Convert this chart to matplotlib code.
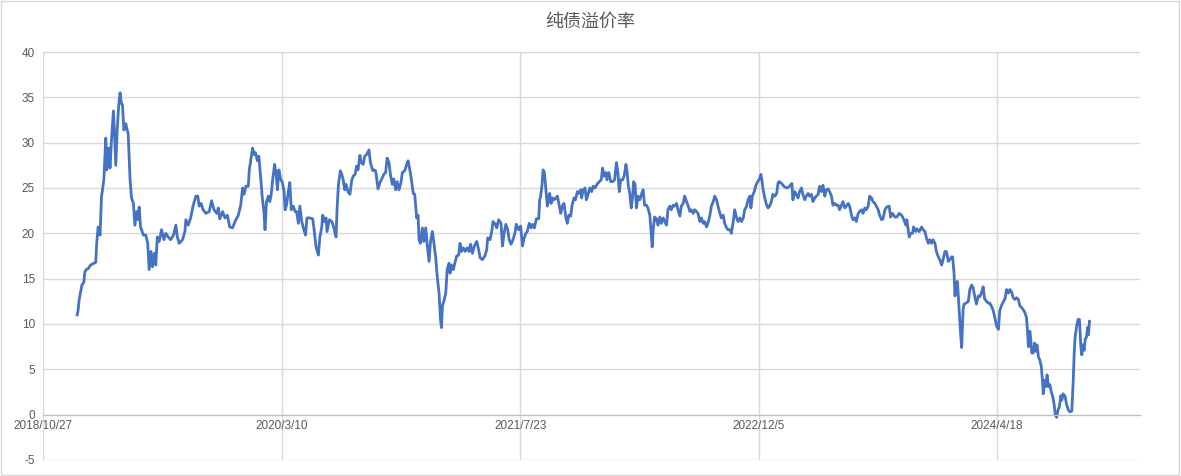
import datetime as dt
import matplotlib
matplotlib.use('Agg')
import matplotlib.pyplot as plt
import matplotlib.dates as mdates
from matplotlib.ticker import FuncFormatter, MultipleLocator
from matplotlib.patches import Rectangle

plt.rcParams['axes.unicode_minus'] = False

title = '纯债溢价率'
base_date = dt.date(2018, 10, 27)

# days after 2018/10/27
offset_days = [
    71, 73, 75, 77, 81, 85, 87, 90, 94, 99, 110, 112, 115, 119, 122, 127, 131, 133, 137, 140,
    143, 147, 149, 152, 155, 158, 161, 164, 166, 169, 173, 175, 178, 182, 185, 189, 192, 196, 199, 201,
    204, 210, 215, 219, 222, 226, 229, 233, 236, 239, 243, 248, 253, 257, 262, 267, 273, 278, 281, 285,
    292, 297, 299, 304, 309, 314, 320, 324, 327, 331, 335, 341, 348, 353, 358, 364, 367, 370, 376, 381,
    386, 391, 397, 402, 409, 414, 418, 421, 425, 430, 432, 435, 439, 442, 445, 449, 452, 456, 459, 463,
    465, 468, 472, 475, 478, 481, 485, 488, 491, 494, 498, 501, 505, 507, 510, 514, 517, 520, 524, 528,
    531, 535, 538, 542, 545, 550, 553, 559, 565, 568, 572, 577, 580, 584, 586, 590, 593, 595, 600, 605,
    609, 614, 616, 619, 623, 626, 629, 632, 635, 639, 643, 647, 650, 654, 657, 660, 664, 667, 671, 674,
    678, 683, 686, 691, 694, 697, 702, 706, 709, 714, 718, 721, 725, 728, 732, 735, 739, 742, 746, 750,
    753, 758, 762, 765, 769, 772, 776, 779, 783, 786, 788, 791, 795, 798, 802, 805, 809, 812, 816, 820,
    823, 826, 830, 833, 835, 837, 841, 844, 847, 851, 853, 856, 860, 863, 867, 871, 874, 877, 881, 885,
    889, 893, 896, 900, 904, 909, 913, 916, 921, 926, 930, 932, 937, 941, 943, 948, 951, 955, 960, 963,
    966, 970, 974, 977, 981, 985, 989, 992, 997, 1001, 1005, 1008, 1012, 1015, 1019, 1023, 1026, 1030, 1034, 1039,
    1041, 1043, 1046, 1048, 1051, 1054, 1057, 1060, 1062, 1065, 1068, 1071, 1075, 1078, 1082, 1085, 1089, 1092, 1096, 1099,
    1102, 1106, 1109, 1113, 1116, 1120, 1123, 1127, 1129, 1132, 1136, 1139, 1143, 1146, 1150, 1153, 1157, 1161, 1166, 1170,
    1173, 1176, 1180, 1182, 1186, 1190, 1194, 1198, 1202, 1205, 1208, 1211, 1215, 1218, 1222, 1224, 1227, 1230, 1233, 1236,
    1238, 1241, 1244, 1247, 1251, 1255, 1258, 1261, 1265, 1268, 1272, 1275, 1277, 1279, 1282, 1286, 1289, 1293, 1296, 1300,
    1303, 1307, 1310, 1314, 1317, 1321, 1324, 1328, 1331, 1335, 1338, 1342, 1345, 1349, 1352, 1356, 1359, 1363, 1366, 1370,
    1373, 1377, 1380, 1384, 1387, 1391, 1394, 1398, 1401, 1405, 1408, 1412, 1415, 1419, 1422, 1426, 1429, 1433, 1436, 1440,
    1443, 1447, 1450, 1454, 1457, 1461, 1464, 1468, 1471, 1475, 1478, 1482, 1484, 1487, 1491, 1494, 1497, 1501, 1505, 1507,
    1509, 1513, 1517, 1520, 1523, 1527, 1530, 1534, 1538, 1541, 1544, 1550, 1555, 1560, 1565, 1570, 1572, 1576, 1579, 1583,
    1586, 1590, 1593, 1597, 1600, 1604, 1607, 1611, 1614, 1618, 1621, 1625, 1628, 1632, 1635, 1639, 1642, 1646, 1649, 1653,
    1656, 1660, 1663, 1667, 1670, 1674, 1677, 1681, 1684, 1688, 1691, 1695, 1698, 1702, 1705, 1709, 1712, 1716, 1719, 1723,
    1726, 1730, 1733, 1737, 1740, 1744, 1747, 1751, 1754, 1758, 1761, 1765, 1769, 1774, 1777, 1781, 1786, 1790, 1795, 1800,
    1804, 1809, 1811, 1816, 1819, 1823, 1825, 1830, 1832, 1837, 1842, 1845, 1849, 1852, 1856, 1859, 1863, 1866, 1870, 1873,
    1877, 1880, 1884, 1887, 1891, 1894, 1898, 1901, 1905, 1907, 1910, 1912, 1914, 1917, 1919, 1922, 1924, 1926, 1929, 1931,
    1935, 1940, 1943, 1947, 1950, 1954, 1957, 1961, 1964, 1968, 1971, 1974, 1978, 1982, 1985, 1989, 1992, 1996, 1999, 2003,
    2006, 2010, 2013, 2017, 2020, 2024, 2027, 2031, 2034, 2038, 2041, 2045, 2048, 2052, 2055, 2059, 2062, 2064, 2066, 2069,
    2071, 2073, 2076, 2079, 2082, 2084, 2087, 2090, 2093, 2096, 2097, 2100, 2103, 2105, 2108, 2111, 2114, 2117, 2120, 2122,
    2125, 2128, 2131, 2134, 2136, 2139, 2143, 2146, 2150, 2153, 2157, 2160, 2162, 2164, 2167, 2170, 2173, 2176, 2178, 2180,
    2183, 2185, 2188, 2190, 2192, 2194,
]

premium = [
    11.0, 11.5, 12.6, 13.2, 14.3, 14.6, 15.7, 16.0, 16.1, 16.5, 16.8, 18.9, 20.7, 19.8, 24.0, 25.9, 30.5, 27.0, 29.4, 27.2,
    30.3, 33.5, 31.4, 27.5, 31.4, 34.0, 35.5, 34.3, 34.2, 31.4, 32.1, 31.6, 31.0, 25.9, 23.9, 23.3, 20.9, 22.4, 21.5, 22.9,
    20.7, 19.8, 19.8, 18.9, 16.0, 18.0, 16.3, 17.8, 16.5, 19.6, 19.1, 20.4, 19.3, 20.0, 19.6, 19.3, 19.8, 20.9, 19.6, 18.9,
    19.3, 20.2, 21.5, 20.9, 21.7, 23.0, 24.1, 24.1, 23.0, 23.3, 22.6, 22.2, 22.4, 23.6, 22.6, 22.2, 22.8, 21.6, 22.4, 21.7,
    22.0, 20.7, 20.6, 21.3, 22.0, 23.1, 25.0, 24.3, 25.2, 25.2, 27.0, 28.0, 29.4, 28.7, 28.9, 28.0, 28.5, 26.1, 24.1, 22.2,
    20.4, 23.5, 24.1, 23.5, 24.3, 25.9, 27.6, 26.7, 24.8, 27.0, 25.9, 25.7, 24.6, 22.6, 23.1, 24.6, 25.6, 22.6, 23.0, 22.4,
    22.4, 21.1, 23.0, 21.3, 20.7, 19.8, 21.7, 21.7, 21.6, 20.4, 18.5, 17.6, 19.6, 20.7, 22.0, 21.3, 21.7, 20.2, 21.5, 21.3,
    20.7, 19.6, 22.6, 25.4, 26.9, 26.5, 25.9, 24.8, 25.4, 24.6, 24.3, 25.9, 26.3, 26.5, 27.4, 27.0, 28.6, 27.8, 27.6, 28.5,
    28.7, 29.2, 27.8, 26.9, 27.0, 26.9, 24.9, 25.6, 25.9, 26.5, 26.7, 28.3, 27.8, 26.5, 25.4, 26.0, 24.8, 25.7, 24.8, 25.6,
    26.7, 26.9, 27.6, 28.0, 26.9, 25.9, 24.4, 24.3, 21.7, 22.0, 19.3, 18.9, 20.6, 19.1, 20.6, 18.8, 16.9, 19.1, 20.2, 18.6,
    17.3, 15.3, 13.4, 10.5, 9.6, 12.0, 12.7, 13.4, 16.0, 16.7, 15.6, 16.5, 16.0, 16.7, 17.5, 17.6, 18.9, 18.0, 18.4, 18.0,
    18.4, 18.0, 18.8, 17.8, 18.6, 19.1, 18.2, 17.3, 17.1, 17.5, 18.2, 19.5, 19.3, 20.4, 21.3, 21.0, 20.6, 21.5, 21.1, 18.6,
    19.9, 21.0, 20.4, 19.3, 18.8, 19.3, 20.0, 21.0, 20.4, 20.8, 18.6, 19.4, 20.0, 20.2, 21.1, 20.6, 21.0, 20.6, 21.6, 21.6,
    23.7, 24.1, 25.4, 27.0, 26.7, 24.8, 23.0, 23.7, 24.4, 23.3, 23.9, 23.7, 23.9, 24.1, 23.1, 22.2, 23.1, 23.3, 21.7, 21.1,
    22.0, 21.9, 23.1, 23.9, 23.7, 24.6, 24.4, 24.8, 23.9, 24.8, 25.0, 23.7, 24.4, 25.0, 24.6, 25.2, 25.0, 25.4, 25.7, 25.9,
    27.2, 26.3, 26.7, 25.9, 26.7, 25.7, 25.7, 25.9, 27.8, 26.7, 24.6, 25.9, 25.9, 26.3, 27.6, 26.9, 25.2, 24.4, 22.8, 24.1,
    25.7, 25.4, 22.8, 24.1, 23.7, 24.4, 24.8, 23.1, 23.1, 22.8, 22.0, 20.0, 18.5, 20.4, 21.8, 21.6, 20.9, 21.8, 21.1, 21.7,
    21.3, 20.9, 22.6, 23.0, 22.6, 23.1, 23.0, 23.3, 22.6, 21.9, 23.0, 23.3, 24.1, 23.5, 23.1, 22.4, 22.6, 22.2, 22.6, 22.4,
    22.2, 21.3, 21.7, 21.1, 21.3, 20.7, 21.1, 22.0, 23.0, 23.5, 24.1, 23.7, 23.0, 22.2, 21.7, 22.0, 21.1, 20.6, 20.4, 20.4,
    20.0, 21.3, 22.6, 21.7, 21.3, 21.7, 21.3, 21.7, 22.6, 23.0, 23.7, 24.1, 22.8, 24.1, 24.6, 25.2, 25.6, 25.9, 26.5, 25.9,
    25.0, 23.9, 23.1, 22.8, 23.0, 23.5, 24.3, 24.1, 24.4, 25.6, 25.7, 25.4, 25.1, 25.0, 25.2, 25.5, 23.7, 24.6, 24.3, 23.9,
    24.6, 25.0, 24.3, 23.7, 24.1, 24.4, 24.1, 24.3, 23.5, 23.9, 24.1, 24.3, 25.2, 24.6, 25.3, 24.1, 24.8, 24.9, 24.6, 24.1,
    23.1, 23.3, 23.1, 23.1, 22.6, 23.1, 23.5, 22.8, 23.0, 23.3, 23.0, 22.0, 21.5, 21.7, 21.3, 22.2, 22.4, 22.6, 22.2, 22.8,
    22.6, 23.0, 24.1, 23.9, 23.5, 23.3, 23.0, 22.6, 22.0, 21.5, 21.6, 22.6, 22.9, 23.0, 21.8, 22.2, 21.8, 21.8, 22.2, 22.0,
    21.6, 20.9, 21.5, 19.6, 20.0, 20.0, 20.7, 20.2, 20.5, 20.2, 20.7, 20.4, 20.2, 19.5, 18.9, 19.3, 18.9, 19.3, 18.9, 18.0,
    17.4, 17.1, 16.5, 17.1, 18.0, 18.0, 16.9, 17.1, 17.4, 17.4, 15.6, 13.1, 14.5, 14.7, 13.1, 10.5, 8.7, 7.4, 11.6, 12.2,
    12.3, 12.5, 13.8, 14.3, 14.0, 12.9, 12.2, 13.1, 13.0, 13.5, 14.1, 12.8, 12.5, 12.3, 12.3, 11.9, 11.5, 10.6, 9.8, 9.4,
    11.5, 12.1, 12.4, 12.8, 13.8, 13.4, 13.8, 13.5, 12.9, 12.7, 12.9, 12.7, 12.0, 11.8, 11.6, 11.2, 10.7, 9.2, 7.5, 9.2,
    8.3, 6.8, 6.8, 7.9, 7.0, 7.7, 6.4, 6.0, 5.3, 3.4, 2.3, 3.8, 3.1, 4.4, 3.1, 3.3, 2.5, 2.0, 1.1, 0.1,
    -0.3, 0.5, 0.9, 2.1, 1.6, 2.3, 2.0, 1.1, 0.5, 0.3, 0.4, 3.8, 6.8, 8.6, 9.7, 10.5, 10.5, 7.5, 6.6, 7.7,
    7.1, 8.3, 8.6, 9.6, 8.8, 10.3,
]

dates = [base_date + dt.timedelta(days=d) for d in offset_days]
tick_dates = [base_date + dt.timedelta(days=500 * k) for k in range(5)]

grid_c = '#d9d9d9'
text_c = '#595959'

fig = plt.figure(figsize=(11.81, 4.76), dpi=100)
fig.patches.append(Rectangle((0.001, 0.002), 0.997, 0.995, transform=fig.transFigure,
                             fill=False, edgecolor=grid_c, linewidth=1.0))
ax = fig.add_axes([43.3 / 1181, 16 / 476, (1140 - 43.3) / 1181, 408 / 476])

ax.plot(dates, premium, color='#4472C4', linewidth=2.0, solid_joinstyle='round')

ax.set_ylim(-5, 40)
ax.yaxis.set_major_locator(MultipleLocator(5))
ax.set_xlim(base_date, base_date + dt.timedelta(days=2300))
ax.set_xticks(tick_dates)
ax.xaxis.set_major_formatter(FuncFormatter(
    lambda v, pos: '{0.year}/{0.month}/{0.day}'.format(mdates.num2date(v))))

ax.grid(True, color=grid_c, linewidth=1.0)
ax.set_axisbelow(True)
for s in ['top', 'right']:
    ax.spines[s].set_visible(False)
ax.spines['left'].set_color(grid_c)
ax.spines['bottom'].set_position(('data', 0))
ax.spines['bottom'].set_color('#bfbfbf')
ax.tick_params(length=0, colors=text_c, labelsize=8.5)
ax.tick_params(axis='y', pad=6)
ax.tick_params(axis='x', pad=4)
for lab in ax.get_xticklabels() + ax.get_yticklabels():
    lab.set_fontfamily('Liberation Sans')

fig.text(590 / 1181, 1 - 22 / 476, title, ha='center', va='center',
         fontsize=13, color=text_c, family=['Noto Sans CJK SC', 'DejaVu Sans'])

fig.savefig('out.png', dpi=100)
